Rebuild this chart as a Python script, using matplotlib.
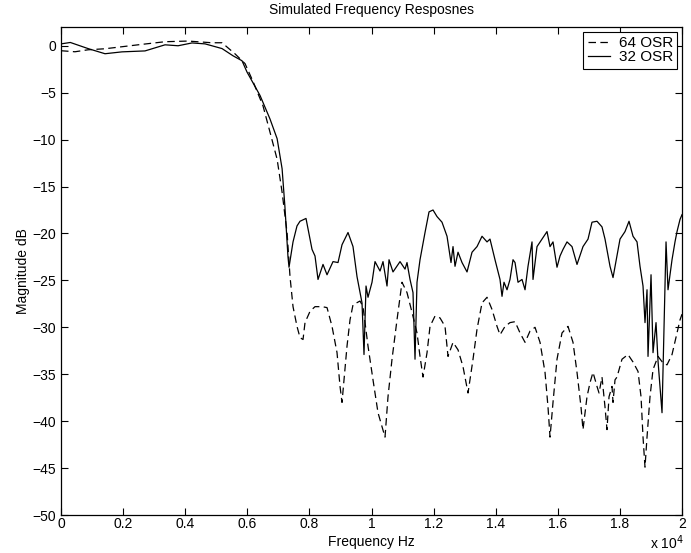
import numpy as np
import matplotlib
matplotlib.use("Agg")
from matplotlib import pyplot as plt
from matplotlib.ticker import FuncFormatter, MultipleLocator

plt.rcParams["font.family"] = ["Liberation Sans", "DejaVu Sans"]
plt.rcParams["font.size"] = 10

# 32 OSR response (solid), frequency in Hz, magnitude in dB
freq_32 = [0, 300, 870, 1417, 1965, 2705, 3350, 3770, 4220, 4640, 5185, 5540,
           5830, 5990, 6410, 6730, 6960, 7120, 7210, 7310, 7343, 7472, 7600,
           7697, 7890, 8084, 8180, 8277, 8438, 8567, 8760, 8921, 9050, 9243,
           9404, 9533, 9694, 9758, 9823, 9887, 10016, 10113, 10274, 10370,
           10499, 10564, 10692, 10918, 11079, 11143, 11240, 11336, 11401,
           11465, 11562, 11723, 11852, 11981, 12109, 12270, 12432, 12560,
           12625, 12689, 12786, 12915, 13076, 13237, 13398, 13559, 13720,
           13816, 13977, 14138, 14203, 14267, 14364, 14460, 14557, 14622,
           14718, 14847, 14944, 15040, 15169, 15201, 15330, 15491, 15652,
           15749, 15845, 15974, 16071, 16167, 16296, 16457, 16618, 16811,
           16973, 17101, 17262, 17423, 17520, 17681, 17778, 17906, 18003,
           18164, 18293, 18422, 18551, 18647, 18744, 18808, 18873, 18905,
           19002, 19066, 19130, 19163, 19227, 19356, 19485, 19549, 19678,
           19774, 19839, 19936, 20000]
mag_32 = [0.2, 0.35, -0.3, -0.85, -0.65, -0.55, 0.1, 0.0, 0.3, 0.2, -0.3, -1.07,
          -1.6, -2.8, -5.3, -7.8, -9.9, -13.1, -17.1, -22.5, -23.6, -20.9, -19.2,
          -18.7, -18.4, -21.7, -22.4, -24.9, -23.3, -24.4, -23.0, -23.1, -21.2, -19.9,
          -21.4, -24.6, -27.4, -32.9, -25.6, -26.8, -25.2, -23.0, -24.0, -23.0,
          -25.6, -22.8, -24.1, -23.0, -23.8, -23.1, -24.9, -26.3, -33.4,
          -25.2, -22.8, -19.9, -17.7, -17.5, -18.2, -18.8, -20.3, -23.1,
          -21.4, -23.5, -22.0, -23.1, -24.1, -22.0, -21.4, -20.3, -20.9,
          -20.6, -22.8, -24.9, -26.7, -25.2, -26.0, -24.9, -22.8, -23.1,
          -25.2, -24.9, -26.0, -23.5, -20.9, -24.9, -21.4, -20.6, -19.8,
          -21.4, -20.9, -23.6, -22.4, -21.7, -20.9, -21.4, -23.3, -21.4,
          -20.6, -18.8, -18.7, -19.3, -20.6, -23.5, -24.7, -22.4, -20.6,
          -19.8, -18.7, -20.3, -20.9, -23.5, -25.6, -29.5, -26.0, -33.1,
          -24.4, -32.7, -30.6, -29.5, -33.6, -39.1, -20.9, -26.0, -22.8,
          -20.9, -19.8, -18.5, -18.0]

# 64 OSR response (dashed)
freq_64 = [0, 450, 870, 1417, 2480, 3350, 4090, 4860, 5185, 5600, 5926, 6183,
           6505, 6730, 6960, 7120, 7280, 7375, 7472, 7600, 7697, 7794, 7858,
           8019, 8180, 8406, 8567, 8728, 8889, 8986, 9050, 9114, 9211, 9308,
           9404, 9630, 9726, 9887, 10048, 10209, 10435, 10531, 10660, 10821,
           10982, 11143, 11304, 11465, 11562, 11659, 11788, 11884, 12045,
           12206, 12367, 12464, 12625, 12786, 12947, 13108, 13269, 13398,
           13559, 13720, 13881, 14042, 14138, 14300, 14460, 14622, 14783,
           14944, 15105, 15266, 15427, 15588, 15684, 15749, 15845, 15974,
           16135, 16328, 16489, 16618, 16747, 16811, 16940, 17037, 17133,
           17262, 17327, 17423, 17520, 17584, 17649, 17745, 17778, 17842,
           17906, 18067, 18260, 18422, 18583, 18680, 18744, 18808, 18873,
           18969, 19066, 19227, 19388, 19517, 19678, 19839, 19936, 20000]
mag_64 = [-0.53, -0.64, -0.43, -0.32, 0.1, 0.43, 0.5, 0.32, 0.32, -0.85, -1.9, -3.8,
          -6.4, -9.2, -12.1, -15.6, -19.9, -24.6, -27.8, -29.9, -31.1, -31.3, -29.5,
          -28.3, -27.8, -27.8, -27.9, -29.9, -32.7, -36.3, -38.0, -35.6, -32.0, -29.2,
          -27.6, -27.2, -27.8, -32.0, -35.6, -39.1, -41.7, -37.4, -33.4, -29.2,
          -25.2, -26.3, -28.4, -30.6, -33.1, -35.3, -32.7, -29.9, -28.8,
          -29.0, -29.9, -33.1, -31.6, -32.4, -34.2, -37.0, -33.4, -30.2,
          -27.4, -26.8, -28.1, -29.9, -30.8, -29.9, -29.5, -29.4, -30.6,
          -31.6, -30.4, -30.0, -31.6, -34.8, -38.5, -41.7, -38.0, -33.4,
          -30.6, -29.9, -31.6, -34.8, -38.5, -40.9, -37.4, -35.9, -34.8,
          -36.3, -37.0, -35.3, -38.5, -40.9, -37.4, -36.3, -38.0, -35.6,
          -35.3, -33.4, -32.9, -33.7, -34.7, -37.4, -41.7, -44.9, -41.7,
          -37.4, -34.5, -33.1, -33.8, -34.0, -32.9, -30.6, -29.2, -28.6]

fig = plt.figure(figsize=(6.91, 5.53), dpi=100)
ax = fig.add_axes([0.0883, 0.0687, 0.8987, 0.8825])

ax.plot(freq_64, mag_64, color="k", lw=0.9, dashes=(6, 3.5), label="64 OSR")
ax.plot(freq_32, mag_32, color="k", lw=0.9, label="32 OSR")

ax.set_xlim(0, 20000)
ax.set_ylim(-50, 2)
ax.xaxis.set_major_locator(MultipleLocator(2000))
ax.yaxis.set_major_locator(MultipleLocator(5))
ax.xaxis.set_major_formatter(FuncFormatter(lambda v, p: "%g" % (v / 1e4)))
ax.tick_params(direction="in", top=True, right=True, length=5, width=0.8)
ax.tick_params(axis="x", pad=1.5)
for s in ax.spines.values():
    s.set_linewidth(0.9)

ax.set_title("Simulated Frequency Resposnes", fontsize=10, pad=9)
ax.set_xlabel("Frequency Hz", labelpad=3)
ax.set_ylabel("Magnitude dB", labelpad=2)
fig.text(0.941, 0.002, "x 10$^4$", fontsize=10, va="bottom")

leg = ax.legend(loc="upper right", fancybox=False, edgecolor="k",
                framealpha=1, borderpad=0.3, handlelength=1.45,
                labelspacing=0.0, borderaxespad=0.3, handletextpad=0.55,
                fontsize=11)
leg.get_frame().set_linewidth(0.8)

plt.savefig("out.png", dpi=100)
